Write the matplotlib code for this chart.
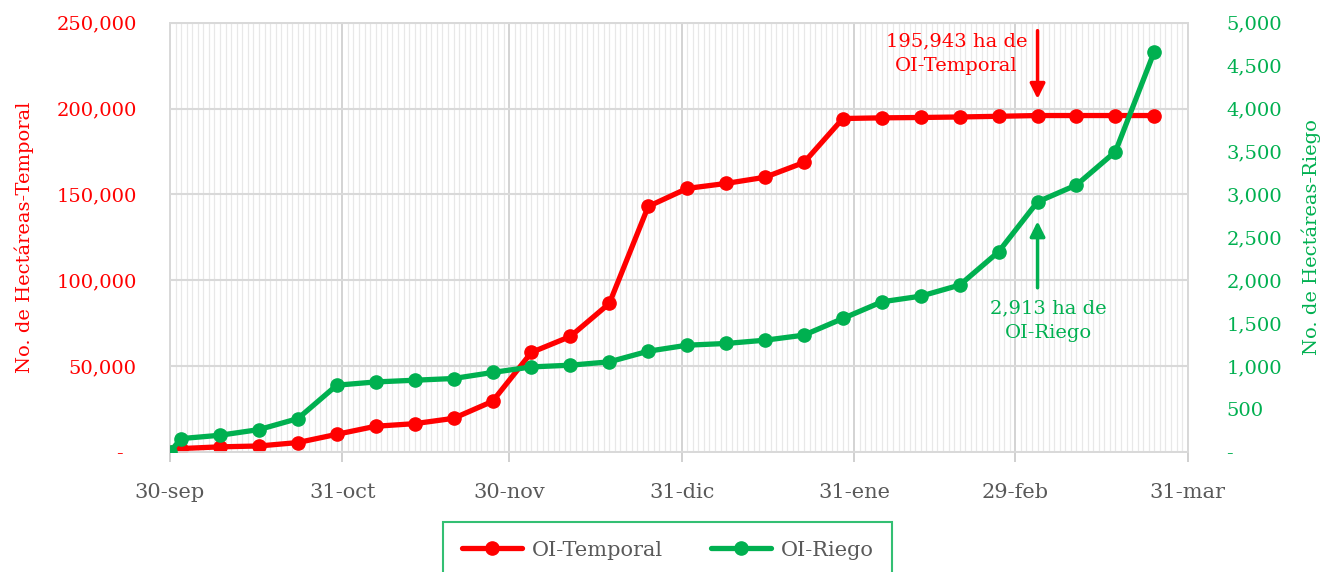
import matplotlib
matplotlib.use("Agg")
import matplotlib.pyplot as plt
import matplotlib.dates as mdates
import numpy as np
import pandas as pd
from matplotlib.ticker import FixedLocator, FuncFormatter

plt.rcParams["font.family"] = ["DejaVu Serif"]

RED = "#FF0000"
GREEN = "#00B050"
GRAY = "#595959"

dates = ["2019-09-30", "2019-10-02", "2019-10-09", "2019-10-16", "2019-10-23",
         "2019-10-30", "2019-11-06", "2019-11-13", "2019-11-20", "2019-11-27",
         "2019-12-04", "2019-12-11", "2019-12-18", "2019-12-25", "2020-01-01",
         "2020-01-08", "2020-01-15", "2020-01-22", "2020-01-29", "2020-02-05",
         "2020-02-12", "2020-02-19", "2020-02-26", "2020-03-04", "2020-03-11",
         "2020-03-18", "2020-03-25"]
temporal = [0, 2000, 3000, 3500, 5500, 10300, 15000, 16500, 19600, 29500,
            58000, 67300, 86500, 143000, 153500, 156400, 160000, 168600,
            194200, 194600, 194800, 195100, 195500, 195943, 195943, 195943,
            195943]
riego = [0, 156, 195, 261, 389, 778, 816, 836, 856, 926, 991, 1011, 1050,
         1174, 1244, 1264, 1302, 1361, 1555, 1749, 1815, 1944, 2332, 2913,
         3110, 3498, 4664]

month_ticks = ["2019-09-30", "2019-10-31", "2019-11-30", "2019-12-31",
               "2020-01-31", "2020-02-29", "2020-03-31"]
month_labels = ["30-sep", "31-oct", "30-nov", "31-dic", "31-ene", "29-feb", "31-mar"]

x = pd.to_datetime(dates)
xt = mdates.date2num(pd.to_datetime(month_ticks))


def acct(v, _pos=None):
    return "-  " if v == 0 else f"{v:,.0f}"


fig = plt.figure(figsize=(13.33, 5.72), dpi=100)
ax = fig.add_axes([0.1275, 0.2098, 0.7635, 0.7505])
ax2 = ax.twinx()

ax.plot(x, temporal, color=RED, lw=3.8, marker="o", ms=9.5, label="OI-Temporal",
        solid_capstyle="round", zorder=3)
ax2.plot(x, riego, color=GREEN, lw=3.8, marker="o", ms=9.5, label="OI-Riego",
         solid_capstyle="round", zorder=3)

ax.set_xlim(xt[0], xt[-1])
ax.set_ylim(0, 250000)
ax2.set_ylim(0, 5000)

ax.set_xticks(xt)
ax.set_xticklabels(month_labels)
ax.xaxis.set_minor_locator(mdates.DayLocator())
ax.yaxis.set_major_locator(FixedLocator(np.arange(0, 250001, 50000)))
ax.yaxis.set_major_formatter(FuncFormatter(acct))
ax2.yaxis.set_major_locator(FixedLocator(np.arange(0, 5001, 500)))
ax2.yaxis.set_major_formatter(FuncFormatter(lambda v, p: "-" if v == 0 else f"{v:,.0f}"))

ax.grid(axis="x", which="minor", color="#e8e8e8", lw=0.9)
ax.grid(axis="x", which="major", color="#d0d0d0", lw=1.3)
ax.grid(axis="y", which="major", color="#d9d9d9", lw=1.5)
ax.set_axisbelow(True)

ax.tick_params(axis="x", which="major", length=7, width=1.2, color="#c8c8c8",
               labelcolor=GRAY, labelsize=15, pad=15)
ax.tick_params(axis="x", which="minor", length=0)
ax.tick_params(axis="y", length=0, labelcolor=RED, labelsize=14, pad=24)
ax2.tick_params(axis="y", length=0, labelcolor=GREEN, labelsize=14, pad=28)

for a in (ax, ax2):
    for s in a.spines.values():
        s.set_color("#d9d9d9")
        s.set_linewidth(1.3)

ax.set_ylabel("No. de Hectáreas-Temporal", color=RED, fontsize=14, labelpad=16)
ax2.set_ylabel("No. de Hectáreas-Riego", color=GREEN, fontsize=14, labelpad=14)

# annotations
d_arrow = pd.Timestamp("2020-03-04")
ax.annotate("", xy=(d_arrow, 204000), xytext=(d_arrow, 247000),
            arrowprops=dict(arrowstyle="-|>,head_width=0.45,head_length=0.9",
                            color=RED, lw=2.5))
ax.text(pd.Timestamp("2020-02-18 10:00"), 232000, "195,943 ha de\nOI-Temporal",
        color=RED, fontsize=14, ha="center", va="center", linespacing=1.45)
ax2.annotate("", xy=(d_arrow, 2720), xytext=(d_arrow, 1880),
             arrowprops=dict(arrowstyle="-|>,head_width=0.45,head_length=0.9",
                             color=GREEN, lw=2.5))
ax2.text(pd.Timestamp("2020-03-06"), 1530, "2,913 ha de\nOI-Riego",
         color=GREEN, fontsize=14, ha="center", va="center", linespacing=1.45)

h1, l1 = ax.get_legend_handles_labels()
h2, l2 = ax2.get_legend_handles_labels()
leg = fig.legend(h1 + h2, l1 + l2, loc="upper center", bbox_to_anchor=(0.501, 0.0874),
                 ncol=2, frameon=True, fancybox=False, fontsize=15,
                 handlelength=2.9, borderpad=0.9, columnspacing=2.3,
                 handletextpad=0.45, borderaxespad=0)
leg.get_frame().set_edgecolor(GREEN)
leg.get_frame().set_linewidth(1.5)
for t in leg.get_texts():
    t.set_color(GRAY)

fig.savefig("out.png", dpi=100)
